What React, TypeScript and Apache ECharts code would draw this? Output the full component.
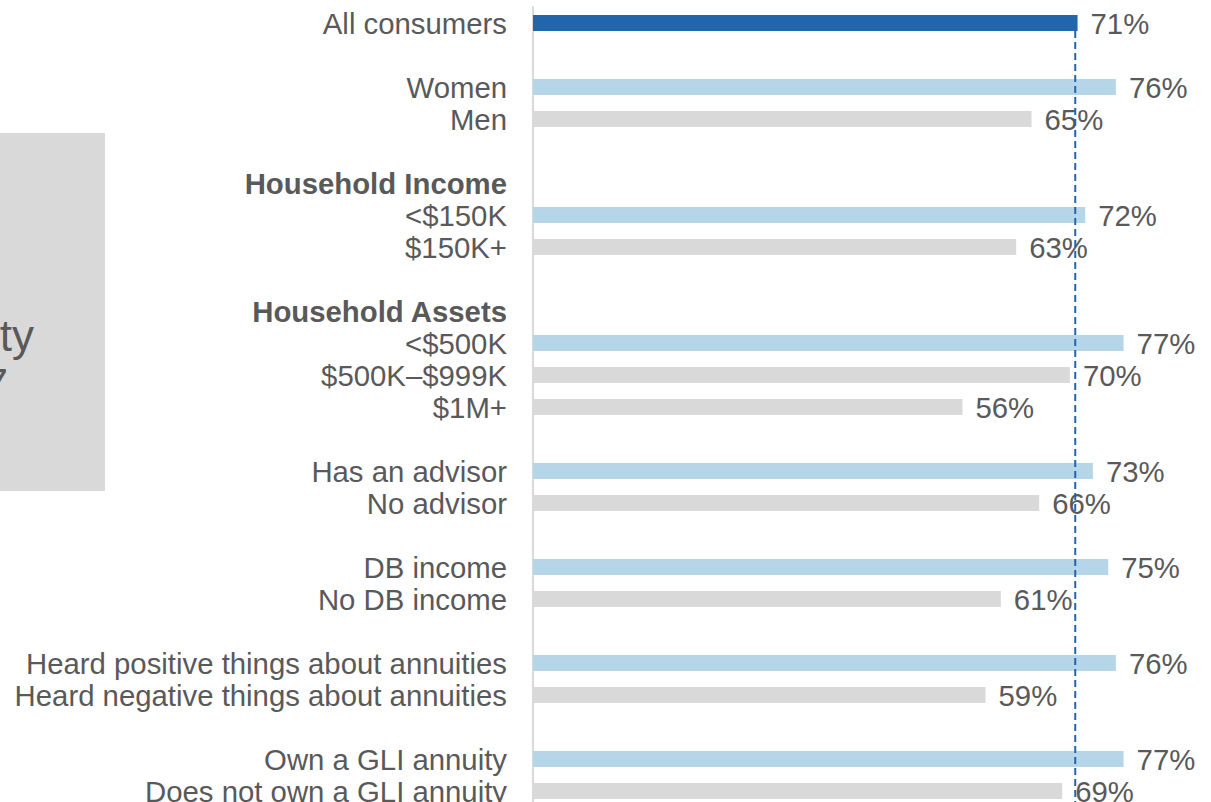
import React, { useEffect, useRef } from "react";
import * as echarts from "echarts";

const categories = [
  "All consumers", "",
  "Women", "Men", "",
  "Household Income", "<$150K", "$150K+", "",
  "Household Assets", "<$500K", "$500K–$999K", "$1M+", "",
  "Has an advisor", "No advisor", "",
  "DB income", "No DB income", "",
  "Heard positive things about annuities", "Heard negative things about annuities", "",
  "Own a GLI annuity", "Does not own a GLI annuity",
];
const values: (number | null)[] = [
  71, null,
  76, 65, null,
  null, 72, 63, null,
  null, 77, 70, 56, null,
  73, 66, null,
  75, 61, null,
  76, 59, null,
  77, 69,
];
// t = total, a = first subgroup, b = other subgroup
const kinds = [
  "t", "",
  "a", "b", "",
  "", "a", "b", "",
  "", "a", "b", "b", "",
  "a", "b", "",
  "a", "b", "",
  "a", "b", "",
  "a", "b",
];
const headers = ["Household Income", "Household Assets"];
const referenceValue = 70.7;
const axisMax = 88.4;
const sideText = ["annuity", "7"];

const COLORS: Record<string, string> = { t: "#2166ac", a: "#b4d6e8", b: "#d9d9d9" };
const FONT = "'Liberation Sans', Arial, sans-serif";
const TEXT = "#595959";

export default function App() {
  const ref = useRef<HTMLDivElement>(null);
  useEffect(() => {
    if (!ref.current) return;
    const chart = echarts.init(ref.current, undefined, { renderer: "svg" });
    chart.setOption({
      animation: false,
      grid: { left: 533, top: 7, right: 0, height: 800 },
      xAxis: { type: "value", min: 0, max: axisMax, show: false },
      yAxis: {
        type: "category",
        data: categories,
        inverse: true,
        axisTick: { show: false },
        splitLine: { show: false },
        axisLine: { show: true, lineStyle: { color: "#d9d9d9", width: 2 } },
        axisLabel: {
          interval: 0,
          margin: 26,
          fontSize: 29.33,
          color: TEXT,
          fontFamily: FONT,
          formatter: (v: string) => (headers.includes(v) ? `{b|${v}}` : v),
          rich: {
            b: { fontWeight: "bold", fontSize: 29.33, color: TEXT, fontFamily: FONT },
          },
        },
      },
      series: [
        {
          type: "bar",
          barWidth: 16,
          data: values.map((v, i) =>
            v == null ? "-" : { value: v, itemStyle: { color: COLORS[kinds[i]] } }
          ),
          label: {
            show: true,
            position: "right",
            distance: 13,
            fontSize: 29.33,
            color: TEXT,
            fontFamily: FONT,
            formatter: (p: any) => (typeof p.value === "number" ? `${p.value}%` : ""),
          },
        },
      ],
    });
    const x = chart.convertToPixel({ xAxisIndex: 0 }, referenceValue) as number;
    const y0 = (chart.convertToPixel({ yAxisIndex: 0 }, 0) as number) + 8;
    chart.setOption({
      graphic: [
        {
          type: "rect",
          shape: { x: 0, y: 133, width: 105, height: 358 },
          style: { fill: "#d9d9d9" },
          z: 0,
        },
        {
          type: "text",
          x: 34,
          y: 335,
          style: {
            text: sideText[0],
            fontSize: 44,
            fontFamily: FONT,
            fill: TEXT,
            align: "right",
            verticalAlign: "middle",
          },
        },
        {
          type: "text",
          x: 8,
          y: 384,
          style: {
            text: sideText[1],
            fontSize: 44,
            fontFamily: FONT,
            fill: TEXT,
            align: "right",
            verticalAlign: "middle",
          },
        },
        {
          type: "line",
          shape: { x1: x, y1: y0, x2: x, y2: 810 },
          style: { stroke: "#2166ac", lineWidth: 2, lineDash: [7, 4] },
          z: 10,
        },
      ],
    });
    return () => chart.dispose();
  }, []);
  return (
    <div
      ref={ref}
      style={{ position: "absolute", left: 0, top: 0, width: 1211, height: 810 }}
    />
  );
}
